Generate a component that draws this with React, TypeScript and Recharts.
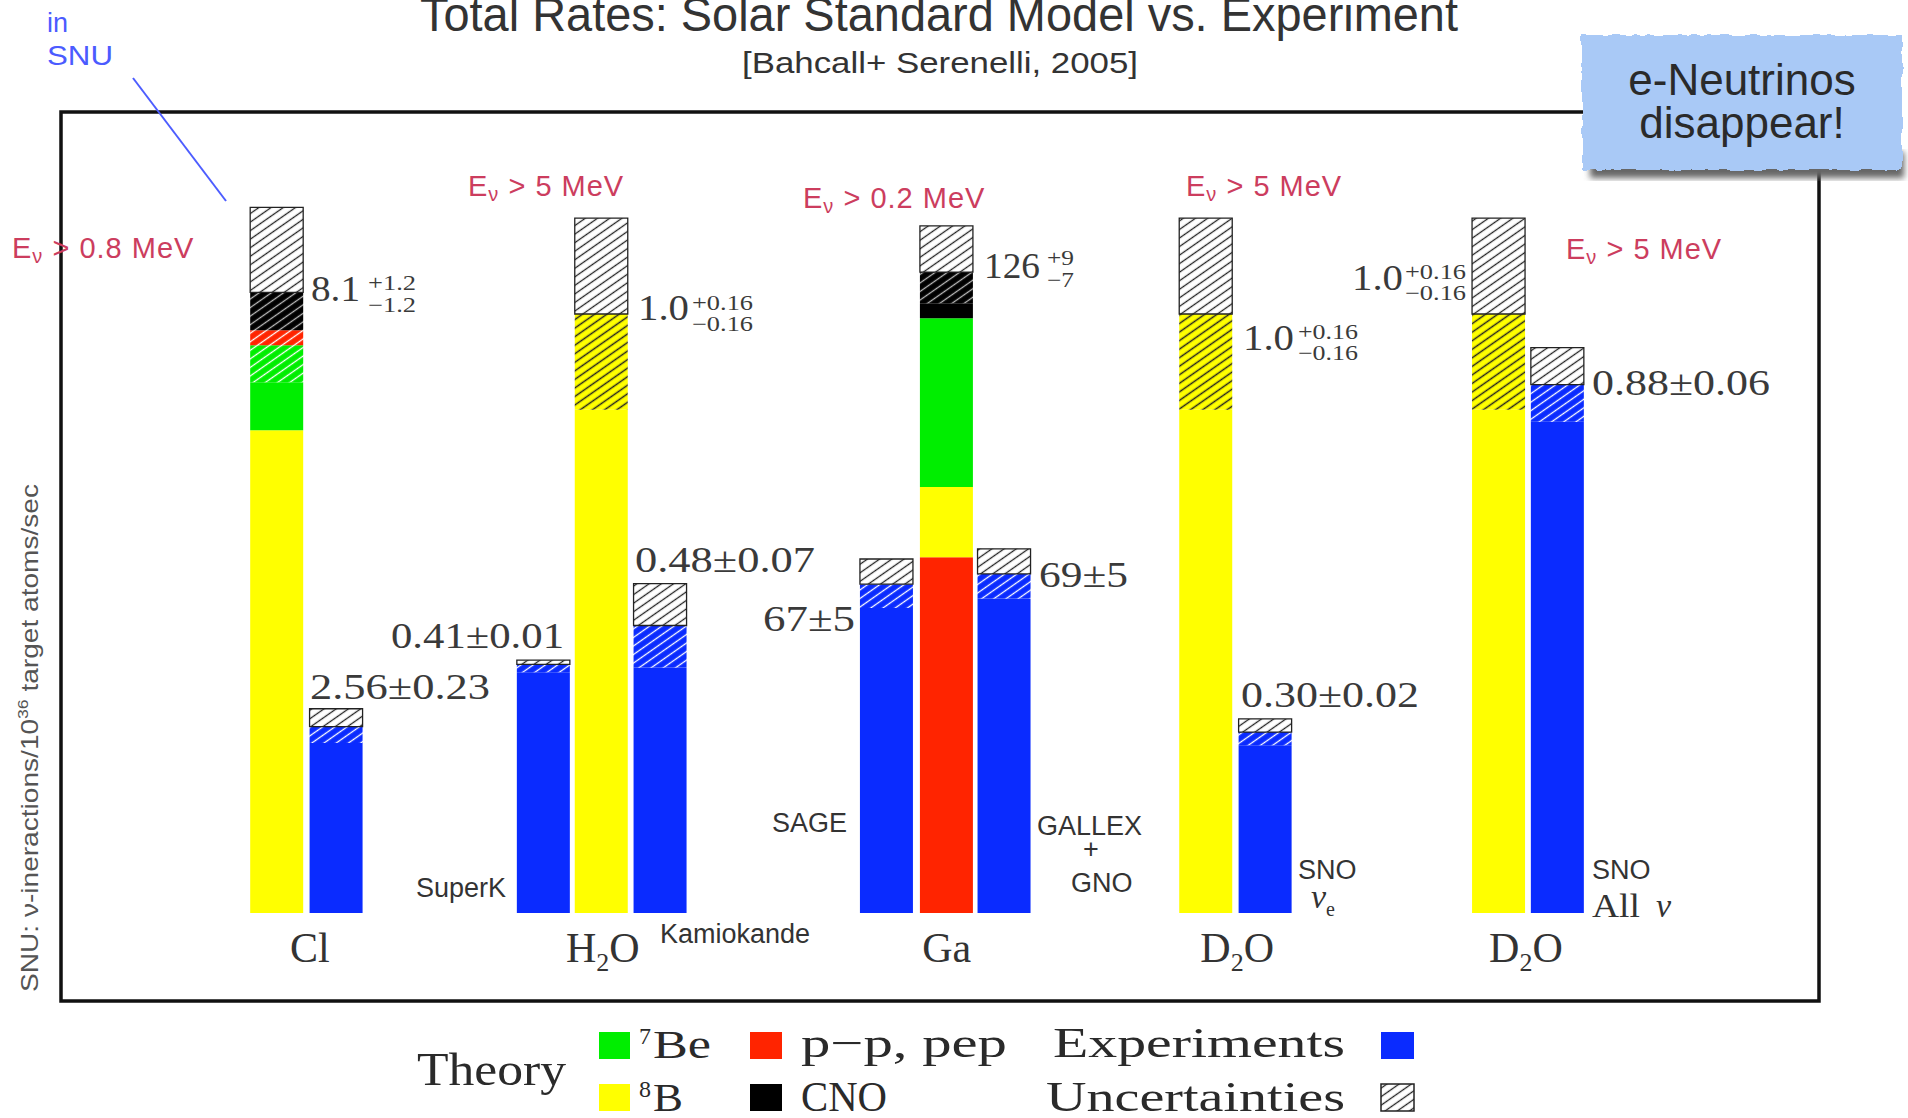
import React from 'react';
import { BarChart, Bar, XAxis, YAxis } from 'recharts';

// bars, left to right; heights are in units of the SSM prediction (solid top of 8B = 1)
const barNames = ['Cl', 'Homestake', 'SuperK', 'H2O', 'Kamiokande', 'SAGE', 'Ga', 'GALLEX+GNO', 'D2O', 'SNO nu_e', 'D2O', 'SNO all'];
const barSlot = [0, 1.01, 4.535, 5.52, 6.52, 10.37, 11.39, 12.37, 15.8, 16.81, 20.78, 21.78];

// theory components (stacked bottom -> top)
const ppBase = [0, 0, 0, 0, 0, 0, 0.594, 0, 0, 0, 0, 0];
const b8 = [0.806, 0, 0, 0.84, 0, 0, 0.117, 0, 0.84, 0, 0.84, 0];
const b8Unc = [0, 0, 0, 0.16, 0, 0, 0, 0, 0.16, 0, 0.16, 0];
const be7 = [0.08, 0, 0, 0, 0, 0, 0.282, 0, 0, 0, 0, 0];
const be7Unc = [0.062, 0, 0, 0, 0, 0, 0, 0, 0, 0, 0, 0];
const ppUnc = [0.025, 0, 0, 0, 0, 0, 0, 0, 0, 0, 0, 0];
const cno = [0, 0, 0, 0, 0, 0, 0.025, 0, 0, 0, 0, 0];
const cnoUnc = [0.063, 0, 0, 0, 0, 0, 0.052, 0, 0, 0, 0, 0];
const theoryUp = [0.142, 0, 0, 0.16, 0, 0, 0.077, 0, 0.16, 0, 0.16, 0];

// experiments
const expVal = [0, 0.284, 0.402, 0, 0.41, 0.509, 0, 0.525, 0, 0.28, 0, 0.82];
const expUnc = [0, 0.027, 0.013, 0, 0.07, 0.04, 0, 0.041, 0, 0.022, 0, 0.062];
const expUp = [0, 0.03, 0.007, 0, 0.07, 0.042, 0, 0.042, 0, 0.022, 0, 0.062];

const catTicks = [0.56, 5.54, 11.39, 16.33, 21.24];
const catLabels = ['Cl', 'H2O', 'Ga', 'D2O', 'D2O'];

const data = barNames.map((name, i) => ({
  name,
  slot: barSlot[i],
  ppBase: ppBase[i],
  b8: b8[i],
  b8Unc: b8Unc[i],
  be7: be7[i],
  be7Unc: be7Unc[i],
  ppUnc: ppUnc[i],
  cno: cno[i],
  cnoUnc: cnoUnc[i],
  theoryUp: theoryUp[i],
  exp: expVal[i],
  expUnc: expUnc[i],
  expUp: expUp[i],
}));

const YELLOW = '#ffff00';
const GREEN = '#00ee00';
const RED = '#ff2400';
const BLUE = '#0a2bff';

const series = [
  { key: 'ppBase', fill: RED },
  { key: 'b8', fill: YELLOW },
  { key: 'b8Unc', fill: 'url(#hatch-yellow)' },
  { key: 'be7', fill: GREEN },
  { key: 'be7Unc', fill: 'url(#hatch-green)' },
  { key: 'ppUnc', fill: 'url(#hatch-red)' },
  { key: 'cno', fill: '#000' },
  { key: 'cnoUnc', fill: 'url(#hatch-black)' },
  { key: 'theoryUp', fill: 'url(#hatch-white)', stroke: '#222' },
  { key: 'exp', fill: BLUE },
  { key: 'expUnc', fill: 'url(#hatch-blue)' },
  { key: 'expUp', fill: 'url(#hatch-white)', stroke: '#222' },
];

// rate labels
const rates = [
  { main: '8.1', up: '+1.2', down: '\u22121.2' },
  { main: '2.56\u00b10.23' },
  { main: '0.41\u00b10.01' },
  { main: '1.0', up: '+0.16', down: '\u22120.16' },
  { main: '0.48\u00b10.07' },
  { main: '67\u00b15' },
  { main: '126', up: '+9', down: '\u22127' },
  { main: '69\u00b15' },
  { main: '1.0', up: '+0.16', down: '\u22120.16' },
  { main: '0.30\u00b10.02' },
  { main: '1.0', up: '+0.16', down: '\u22120.16' },
  { main: '0.88\u00b10.06' },
];
const ratePos = [
  { x: 311, y: 301, w: 49, sx: 368, sw: 48, uy: 290, dy: 312 },
  { x: 310, y: 699, w: 180 },
  { x: 391, y: 648, w: 173 },
  { x: 638, y: 320, w: 51, sx: 692, sw: 61, uy: 310, dy: 331 },
  { x: 635, y: 572, w: 180 },
  { x: 763, y: 631, w: 92 },
  { x: 984, y: 278, w: 56, sx: 1047, sw: 27, uy: 265, dy: 287 },
  { x: 1039, y: 587, w: 89 },
  { x: 1243, y: 350, w: 51, sx: 1298, sw: 60, uy: 339, dy: 360 },
  { x: 1241, y: 707, w: 178 },
  { x: 1352, y: 290, w: 51, sx: 1405, sw: 61, uy: 279, dy: 300 },
  { x: 1592, y: 395, w: 178 },
];

const thresholds = ['0.8', '5', '0.2', '5', '5'];
const thresholdPos = [
  { x: 12, y: 258 },
  { x: 468, y: 196 },
  { x: 803, y: 208 },
  { x: 1186, y: 196 },
  { x: 1566, y: 259 },
];

const SANS = '"Liberation Sans", Arial, sans-serif';
const SERIF = '"Liberation Serif", "Times New Roman", serif';

const Hatch = ({ id, bg, line, w = 1.3 }: any) => (
  <pattern id={id} patternUnits="userSpaceOnUse" width={10} height={7} patternTransform="rotate(-35)">
    <rect width={10} height={7} fill={bg} />
    <line x1={0} y1={3.5} x2={10} y2={3.5} stroke={line} strokeWidth={w} />
  </pattern>
);

const CategoryTick = (props: any) => {
  const { x, y, payload } = props;
  const label = catLabels[catTicks.indexOf(payload.value)] || '';
  const parts = label.split(/(\d)/).filter(Boolean);
  return (
    <text x={x} y={y + 41} textAnchor="middle" fontFamily={SERIF} fontSize={42} fill="#333">
      {parts.map((p: string, i: number) =>
        /\d/.test(p) ? (
          <tspan key={i} fontSize={26} dy={9}>{p}</tspan>
        ) : (
          <tspan key={i} dy={i > 0 ? -9 : 0}>{p}</tspan>
        )
      )}
    </text>
  );
};

const RateLabel = ({ t, p }: any) => (
  <g fontFamily={SERIF} fill="#3a3a3a">
    <text x={p.x} y={p.y} fontSize={35} textLength={p.w} lengthAdjust="spacingAndGlyphs">{t.main}</text>
    {t.up && (
      <>
        <text x={p.sx} y={p.uy} fontSize={21} textLength={p.sw} lengthAdjust="spacingAndGlyphs">{t.up}</text>
        <text x={p.sx} y={p.dy} fontSize={21} textLength={p.sw} lengthAdjust="spacingAndGlyphs">{t.down}</text>
      </>
    )}
  </g>
);

const Threshold = ({ v, p }: any) => (
  <text x={p.x} y={p.y} fontFamily={SANS} fontSize={29} fill="#cc3d5e" letterSpacing={1}>
    <tspan>E</tspan>
    <tspan fontSize={20} dy={5}>{'\u03bd'}</tspan>
    <tspan dy={-5}>{` > ${v} MeV`}</tspan>
  </text>
);

export default function App() {
  return (
    <div style={{ position: 'absolute', left: 0, top: 0, width: 1908, height: 1118, background: '#fff' }}>
      <svg width={0} height={0} style={{ position: 'absolute' }}>
        <defs>
          <Hatch id="hatch-white" bg="#fff" line="#222" />
          <Hatch id="hatch-yellow" bg={YELLOW} line="#222" w={1.5} />
          <Hatch id="hatch-green" bg={GREEN} line="#fff" />
          <Hatch id="hatch-red" bg={RED} line="#fff" />
          <Hatch id="hatch-black" bg="#000" line="#bbb" />
          <Hatch id="hatch-blue" bg={BLUE} line="#fff" />
          <filter id="torn" x="-5%" y="-10%" width="110%" height="120%">
            <feTurbulence type="fractalNoise" baseFrequency="0.09" numOctaves="2" seed="3" />
            <feDisplacementMap in="SourceGraphic" scale="5" />
          </filter>
          <filter id="blur">
            <feGaussianBlur stdDeviation="3" />
          </filter>
        </defs>
      </svg>

      <BarChart
        width={1908}
        height={1118}
        data={data}
        margin={{ top: 74.4, right: 219.8, bottom: 145, left: 100.6 }}
        barSize={53}
        style={{ position: 'absolute', left: 0, top: 0 }}
      >
        <XAxis
          type="number"
          dataKey="slot"
          domain={[-3, 24]}
          ticks={catTicks}
          interval={0}
          tick={<CategoryTick />}
          axisLine={false}
          tickLine={false}
          height={60}
          allowDataOverflow
        />
        <YAxis hide type="number" domain={[0, 1.4]} allowDataOverflow />
        {series.map((s) => (
          <Bar
            key={s.key}
            dataKey={s.key}
            stackId="a"
            fill={s.fill}
            stroke={s.stroke}
            strokeWidth={s.stroke ? 1.3 : 0}
            isAnimationActive={false}
          />
        ))}
      </BarChart>

      <svg width={1908} height={1118} style={{ position: 'absolute', left: 0, top: 0, pointerEvents: 'none' }}>
        {/* frame */}
        <rect x={61} y={112} width={1758} height={889} fill="none" stroke="#111" strokeWidth={3.5} />

        {/* title */}
        <text x={939} y={31} textAnchor="middle" fontFamily={SANS} fontSize={48} fill="#333" textLength={1038} lengthAdjust="spacingAndGlyphs">
          Total Rates: Solar Standard Model vs. Experiment
        </text>
        <text x={940} y={73} textAnchor="middle" fontFamily={SANS} fontSize={29} fill="#333" textLength={396} lengthAdjust="spacingAndGlyphs">
          [Bahcall+ Serenelli, 2005]
        </text>

        {/* units note */}
        <text x={47} y={32} fontFamily={SANS} fontSize={27} fill="#4b5bff">in</text>
        <text x={47} y={65} fontFamily={SANS} fontSize={27} fill="#4b5bff" textLength={66} lengthAdjust="spacingAndGlyphs">SNU</text>
        <line x1={133} y1={78} x2={226} y2={201} stroke="#4d5dff" strokeWidth={2} />

        {/* y label */}
        <text
          transform="translate(38, 738) rotate(-90)"
          textAnchor="middle"
          fontFamily={SANS}
          fontSize={24}
          fill="#555"
          textLength={508}
          lengthAdjust="spacingAndGlyphs"
        >
          <tspan>SNU: {'\u03bd'}-ineractions/10</tspan>
          <tspan fontSize={15} dy={-10}>36</tspan>
          <tspan dy={10}> target atoms/sec</tspan>
        </text>

        {/* energy thresholds */}
        {thresholds.map((v, i) => (
          <Threshold key={i} v={v} p={thresholdPos[i]} />
        ))}

        {/* rates */}
        {rates.map((t, i) => (
          <RateLabel key={i} t={t} p={ratePos[i]} />
        ))}

        {/* detectors */}
        <g fontFamily={SANS} fontSize={27} fill="#333">
          <text x={416} y={897}>SuperK</text>
          <text x={660} y={943}>Kamiokande</text>
          <text x={772} y={832}>SAGE</text>
          <text x={1037} y={835}>GALLEX</text>
          <text x={1091} y={858} textAnchor="middle">+</text>
          <text x={1071} y={892}>GNO</text>
          <text x={1298} y={879}>SNO</text>
          <text x={1592} y={879}>SNO</text>
        </g>
        <text x={1311} y={908} fontFamily={SERIF} fontStyle="italic" fontSize={34} fill="#333">
          {'\u03bd'}
          <tspan fontSize={20} fontStyle="normal" dy={8}>e</tspan>
        </text>
        <text x={1592} y={917} fontFamily={SERIF} fontSize={34} fill="#333" textLength={48} lengthAdjust="spacingAndGlyphs">All</text>
        <text x={1656} y={917} fontFamily={SERIF} fontStyle="italic" fontSize={34} fill="#333">{'\u03bd'}</text>

        {/* legend */}
        <g fontFamily={SERIF} fill="#2a2a2a">
          <text x={417} y={1085} fontSize={46} textLength={149} lengthAdjust="spacingAndGlyphs">Theory</text>
          <rect x={599} y={1032} width={31} height={27} fill={GREEN} />
          <rect x={599} y={1084} width={31} height={27} fill={YELLOW} />
          <text x={639} y={1044} fontSize={24}>7</text>
          <text x={653} y={1058} fontSize={40} textLength={58} lengthAdjust="spacingAndGlyphs">Be</text>
          <text x={639} y={1097} fontSize={24}>8</text>
          <text x={653} y={1111} fontSize={40} textLength={30} lengthAdjust="spacingAndGlyphs">B</text>
          <rect x={750} y={1032} width={32} height={27} fill={RED} />
          <rect x={750} y={1084} width={32} height={27} fill="#000" />
          <text x={801} y={1057} fontSize={42} textLength={206} lengthAdjust="spacingAndGlyphs">p{'\u2212'}p, pep</text>
          <text x={801} y={1111} fontSize={42} textLength={86} lengthAdjust="spacingAndGlyphs">CNO</text>
          <text x={1053} y={1057} fontSize={42} textLength={292} lengthAdjust="spacingAndGlyphs">Experiments</text>
          <text x={1046} y={1111} fontSize={42} textLength={299} lengthAdjust="spacingAndGlyphs">Uncertainties</text>
          <rect x={1381} y={1032} width={33} height={27} fill={BLUE} />
          <rect x={1381} y={1084} width={33} height={27} fill="url(#hatch-white)" stroke="#222" strokeWidth={1.5} />
        </g>

        {/* note box */}
        <rect x={1590} y={152} width={314} height={26} fill="#666" filter="url(#blur)" />
        <rect x={1582} y={35} width={320} height={135} fill="#a9c9f6" filter="url(#torn)" />
        <g fontFamily={SANS} fontSize={44} fill="#2a2a2a" textAnchor="middle">
          <text x={1742} y={95}>e-Neutrinos</text>
          <text x={1742} y={138}>disappear!</text>
        </g>
      </svg>
    </div>
  );
}
